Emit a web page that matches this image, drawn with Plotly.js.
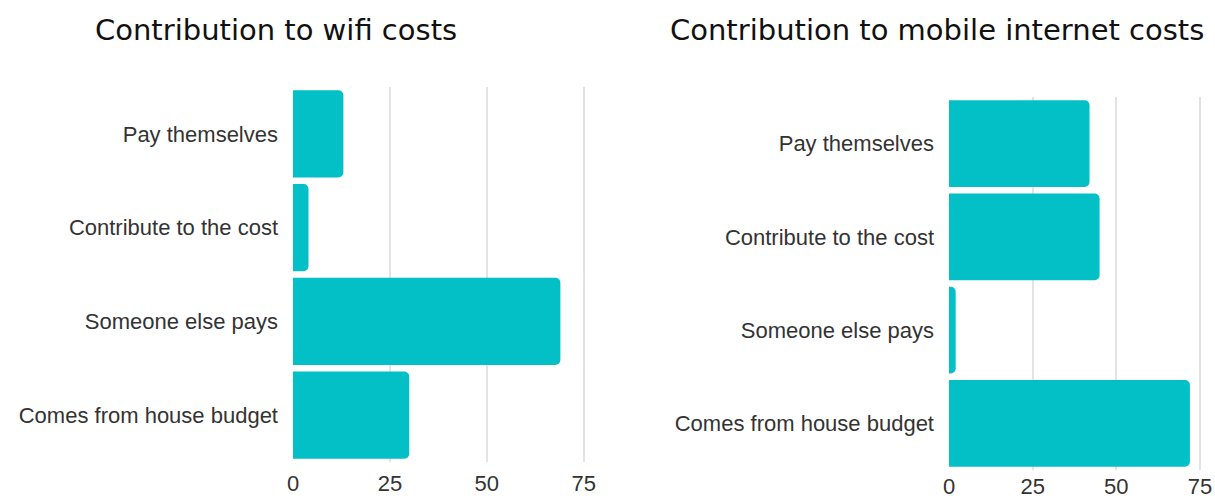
<!DOCTYPE html>
<html>
<head>
<meta charset="utf-8">
<script src="https://cdn.plot.ly/plotly-3.0.1.min.js"></script>
<style>html,body{margin:0;padding:0;background:#fff;}#chart{width:1215px;height:500px;}</style>
</head>
<body>
<div id="chart"></div>
<script>
const categories = ["Pay themselves", "Contribute to the cost", "Someone else pays", "Comes from house budget"];
const wifiValues = [13, 4, 69, 30];
const mobileValues = [42, 45, 2, 72];
const tickValues = [0, 25, 50, 75];
const tickLabels = ["0", "25", "50", "75"];
const titles = ["Contribution to wifi costs", "Contribution to mobile internet costs"];

const barColor = "#03c0c7";
const labelFont = {family: "Liberation Sans, Arial, sans-serif", size: 22, color: "#333333"};
const titleFont = {family: "DejaVu Sans, sans-serif", size: 29, color: "#111111"};

const traces = [
  {type: "bar", orientation: "h", y: categories, x: wifiValues, xaxis: "x", yaxis: "y",
   marker: {color: barColor, cornerradius: 5}, hoverinfo: "x+y"},
  {type: "bar", orientation: "h", y: categories, x: mobileValues, xaxis: "x2", yaxis: "y2",
   marker: {color: barColor, cornerradius: 5}, hoverinfo: "x+y"}
];

const xCommon = {
  tickvals: tickValues, ticktext: tickLabels, showgrid: true, gridcolor: "#e3e3e3", gridwidth: 2,
  zeroline: false, showline: false, ticks: "", tickfont: labelFont, fixedrange: true
};
const yCommon = {
  type: "category", autorange: "reversed", showgrid: false, zeroline: false, showline: false,
  ticks: "", tickfont: labelFont, ticklabelstandoff: 14, fixedrange: true
};

const layout = {
  width: 1215, height: 500,
  margin: {l: 0, r: 0, t: 0, b: 0},
  paper_bgcolor: "#ffffff", plot_bgcolor: "#ffffff",
  showlegend: false, bargap: 0.07,
  xaxis: Object.assign({}, xCommon, {domain: [293/1215, 603/1215], range: [0, 80], anchor: "y", ticklabelstandoff: 6}),
  yaxis: Object.assign({}, yCommon, {domain: [38/500, 413/500], anchor: "x"}),
  xaxis2: Object.assign({}, xCommon, {domain: [949/1215, 1210/1215], range: [0, 78], anchor: "y2", ticklabelstandoff: 1}),
  yaxis2: Object.assign({}, yCommon, {domain: [30/500, 403/500], anchor: "x2"}),
  annotations: [
    {text: titles[0], xref: "paper", yref: "paper", x: 276/1215, y: 1 - 30/500, xanchor: "center", yanchor: "middle",
     showarrow: false, font: titleFont},
    {text: titles[1], xref: "paper", yref: "paper", x: 937/1215, y: 1 - 30/500, xanchor: "center", yanchor: "middle",
     showarrow: false, font: titleFont}
  ]
};

Plotly.newPlot("chart", traces, layout, {displayModeBar: false, staticPlot: true});
</script>
</body>
</html>
